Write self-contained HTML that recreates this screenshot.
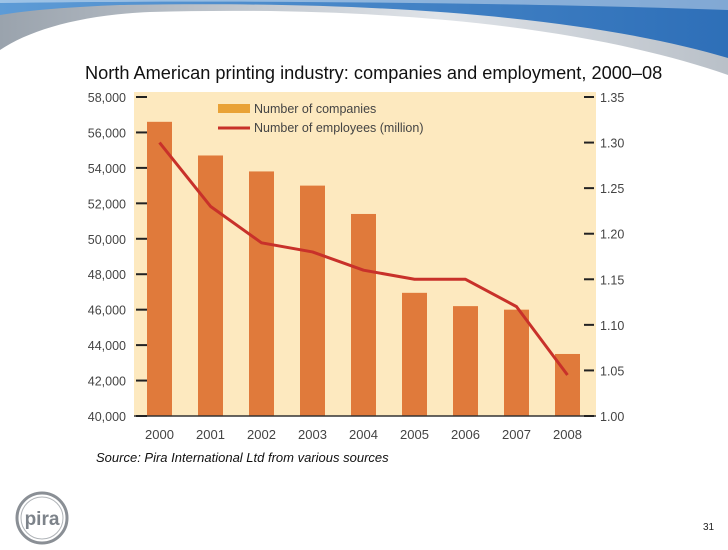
<!DOCTYPE html>
<html><head><meta charset="utf-8"><style>
body{margin:0;width:728px;height:546px;overflow:hidden;background:#fff;font-family:"Liberation Sans",Arial,sans-serif;position:relative}
.t{position:absolute;white-space:nowrap}
</style></head><body>
<svg width="728" height="546" style="position:absolute;left:0;top:0">
<defs>
<linearGradient id="bl" x1="0" x2="1"><stop offset="0" stop-color="#5d9bd6"/><stop offset="1" stop-color="#2e6fb8"/></linearGradient>
<linearGradient id="gr" x1="0" x2="1"><stop offset="0" stop-color="#9aa3ad"/><stop offset="0.6" stop-color="#dfe3e8"/><stop offset="1" stop-color="#b9c0c8"/></linearGradient>
</defs>
<path d="M0,0 L728,0 L728,75 C600,30 400,5 150,12 C80,15 30,30 0,50 Z" fill="url(#gr)"/>
<path d="M0,0 L728,0 L728,58 C600,20 400,0 120,5 C70,7 30,10 0,15 Z" fill="url(#bl)"/>
<path d="M0,0 L728,0 L728,10 C500,2 200,0 0,3 Z" fill="#fff" opacity="0.4"/>
</svg>
<div class="t" style="left:85px;top:63px;font-size:18.2px;color:#111">North American printing industry: companies and employment, 2000–08</div>
<svg id="chart" width="728" height="546" style="position:absolute;left:0;top:0"></svg>
<div class="t" style="left:96px;top:450px;font-size:13px;font-style:italic;color:#111">Source: Pira International Ltd from various sources</div>
<svg width="60" height="60" style="position:absolute;left:14px;top:490px">
<circle cx="28" cy="28" r="25" fill="none" stroke="#8a8f95" stroke-width="3"/>
<circle cx="28" cy="28" r="21" fill="none" stroke="#b0b4b8" stroke-width="1"/>
<text x="28" y="35" text-anchor="middle" font-family="Liberation Sans" font-size="19" font-weight="bold" fill="#7d838a">pira</text>
</svg>
<div class="t" style="left:703px;top:522px;font-size:10px;color:#222">31</div>
<script>
const years=["2000","2001","2002","2003","2004","2005","2006","2007","2008"];
const companies=[56600,54700,53800,53000,51400,46950,46200,46000,43500];
const employees=[1.30,1.23,1.19,1.18,1.16,1.15,1.15,1.12,1.045];
const leftTicks=[40000,42000,44000,46000,48000,50000,52000,54000,56000,58000];
const rightTicks=[1.00,1.05,1.10,1.15,1.20,1.25,1.30,1.35];
const NS="http://www.w3.org/2000/svg";
const svg=document.getElementById('chart');
const X0=134,X1=596,Y0=416,Y1=97;
const yL=v=>Y0-(v-40000)/18000*(Y0-Y1);
const yR=v=>Y0-(v-1.0)/0.35*(Y0-Y1);
const xC=i=>159.5+i*51;
function mk(t,a){const e=document.createElementNS(NS,t);for(const k in a)e.setAttribute(k,a[k]);svg.appendChild(e);return e;}
let e=mk('rect',{x:X0,y:Y1-5,width:X1-X0,height:Y0-Y1+5,fill:'#fde9bf'});


companies.forEach((v,i)=>{const b=mk('rect',{x:xC(i)-12.5,y:yL(v),width:25,height:Y0-yL(v),fill:'#e07a3b'});

});
const pl=mk('polyline',{points:employees.map((v,i)=>xC(i)+','+yR(v)).join(' '),fill:'none',stroke:'#c8312a','stroke-width':3,'stroke-linejoin':'round'});


const ax=mk('line',{x1:X0,x2:X1,y1:Y0,y2:Y0,stroke:'#333','stroke-width':1.5});


leftTicks.forEach(v=>{const y=yL(v);mk('line',{x1:136,x2:147,y1:y,y2:y,stroke:'#222','stroke-width':2});
const t=mk('text',{x:126,y:y+5,'text-anchor':'end','font-size':12.5,fill:'#444','font-family':'Liberation Sans'});t.textContent=v.toLocaleString('en-US');

});
rightTicks.forEach(v=>{const y=yR(v);mk('line',{x1:584,x2:594,y1:y,y2:y,stroke:'#222','stroke-width':2});
const t=mk('text',{x:600,y:y+5,'font-size':12.5,fill:'#444','font-family':'Liberation Sans'});t.textContent=v.toFixed(2);

});
years.forEach((s,i)=>{const t=mk('text',{x:xC(i),y:439,'text-anchor':'middle','font-size':13,fill:'#444','font-family':'Liberation Sans'});t.textContent=s;

});
const l1=mk('rect',{x:218,y:104,width:32,height:9,fill:'#e9a237'});


const l2=mk('line',{x1:218,x2:250,y1:128,y2:128,stroke:'#c8312a','stroke-width':3});


[['Number of companies',113],['Number of employees (million)',132]].forEach(([s,y])=>{const t=mk('text',{x:254,y:y,'font-size':12.5,fill:'#444','font-family':'Liberation Sans'});t.textContent=s;

});
</script>
</body></html>
